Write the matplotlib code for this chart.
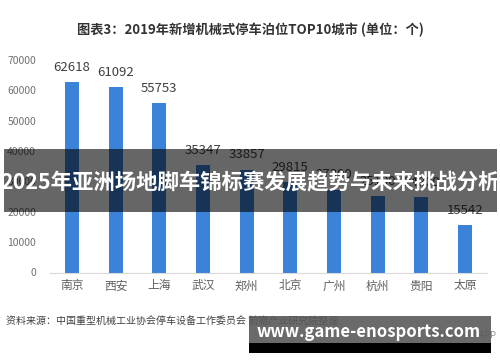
import matplotlib
matplotlib.use("Agg")
import matplotlib.pyplot as plt
import matplotlib.patches as patches

plt.rcParams['font.family'] = ['Noto Sans CJK SC', 'DejaVu Sans']

cities = ['南京', '西安', '上海', '武汉', '郑州', '北京', '广州', '杭州', '贵阳', '太原']
berths = [62618, 61092, 55753, 35347, 33857, 29815, 27300, 25100, 24800, 15542]
yticks = [0, 10000, 20000, 30000, 40000, 50000, 60000, 70000]

W, H = 500, 362
fig = plt.figure(figsize=(W / 100, H / 100), dpi=100)
fig.patch.set_facecolor('white')

# plot area in pixels: x 50..487, y 60..272.5
ax = fig.add_axes([50 / W, 1 - 272.5 / H, 437 / W, 212.5 / H])
x = list(range(len(cities)))
ax.bar(x, berths, width=0.32, color='#3b82d9', zorder=2)
for xi, v in zip(x, berths):
    ax.annotate(str(v), (xi, v), xytext=(0, 6), textcoords='offset points',
                ha='center', va='bottom', fontsize=9.5, color='#404040')

ax.set_xlim(-0.5, len(cities) - 0.5)
ax.set_ylim(0, 70000)
ax.set_yticks(yticks)
ax.set_yticklabels([str(t) for t in yticks], fontsize=7.5, color='#707070')
ax.set_xticks(x)
ax.set_xticklabels(cities, fontsize=8.5, color='#606060')
ax.tick_params(axis='both', length=0)
ax.tick_params(axis='y', pad=10)
ax.tick_params(axis='x', pad=5)
for s in ['top', 'right', 'left']:
    ax.spines[s].set_visible(False)
ax.spines['bottom'].set_color('#d9d9d9')

fig.text(0.5, 1 - 30 / H, '图表3：2019年新增机械式停车泊位TOP10城市 (单位：个)',
         ha='center', va='center', fontsize=9.5, fontweight='bold', color='#333333')

fig.text(6 / W, 1 - 321 / H,
         '资料来源：中国重型机械工业协会停车设备工作委员会 前瞻产业研究院整理',
         ha='left', va='center', fontsize=7.2, color='#404040')
fig.text(497 / W, 1 - 335 / H, '前瞻经济学人APP', ha='right', va='center',
         fontsize=6.5, color='#8a8a8a')

# dark banner across the chart
fig.patches.append(patches.Rectangle((4 / W, 1 - 212 / H), 493 / W, 63 / H,
                                     transform=fig.transFigure, facecolor='black',
                                     alpha=0.6, zorder=5))
fig.text(250 / W, 1 - 183 / H, '2025年亚洲场地脚车锦标赛发展趋势与未来挑战分析',
         ha='center', va='center', fontsize=15.4, fontweight='bold', color='white',
         zorder=6)

# site watermark box, bottom right
fig.patches.append(patches.Rectangle((249 / W, 1 - 343 / H), 242 / W, 27 / H,
                                     transform=fig.transFigure, facecolor='#5a5a5a',
                                     alpha=0.9, zorder=5))
fig.patches.append(patches.Rectangle((249 / W, 1 - 353 / H), 242 / W, 10 / H,
                                     transform=fig.transFigure, facecolor='black',
                                     zorder=5))
fig.text(369 / W, 1 - 332 / H, 'www.game-enosports.com', ha='center', va='center',
         fontsize=12, fontweight='bold', color='white', zorder=6)

fig.savefig('out.png', dpi=100)
